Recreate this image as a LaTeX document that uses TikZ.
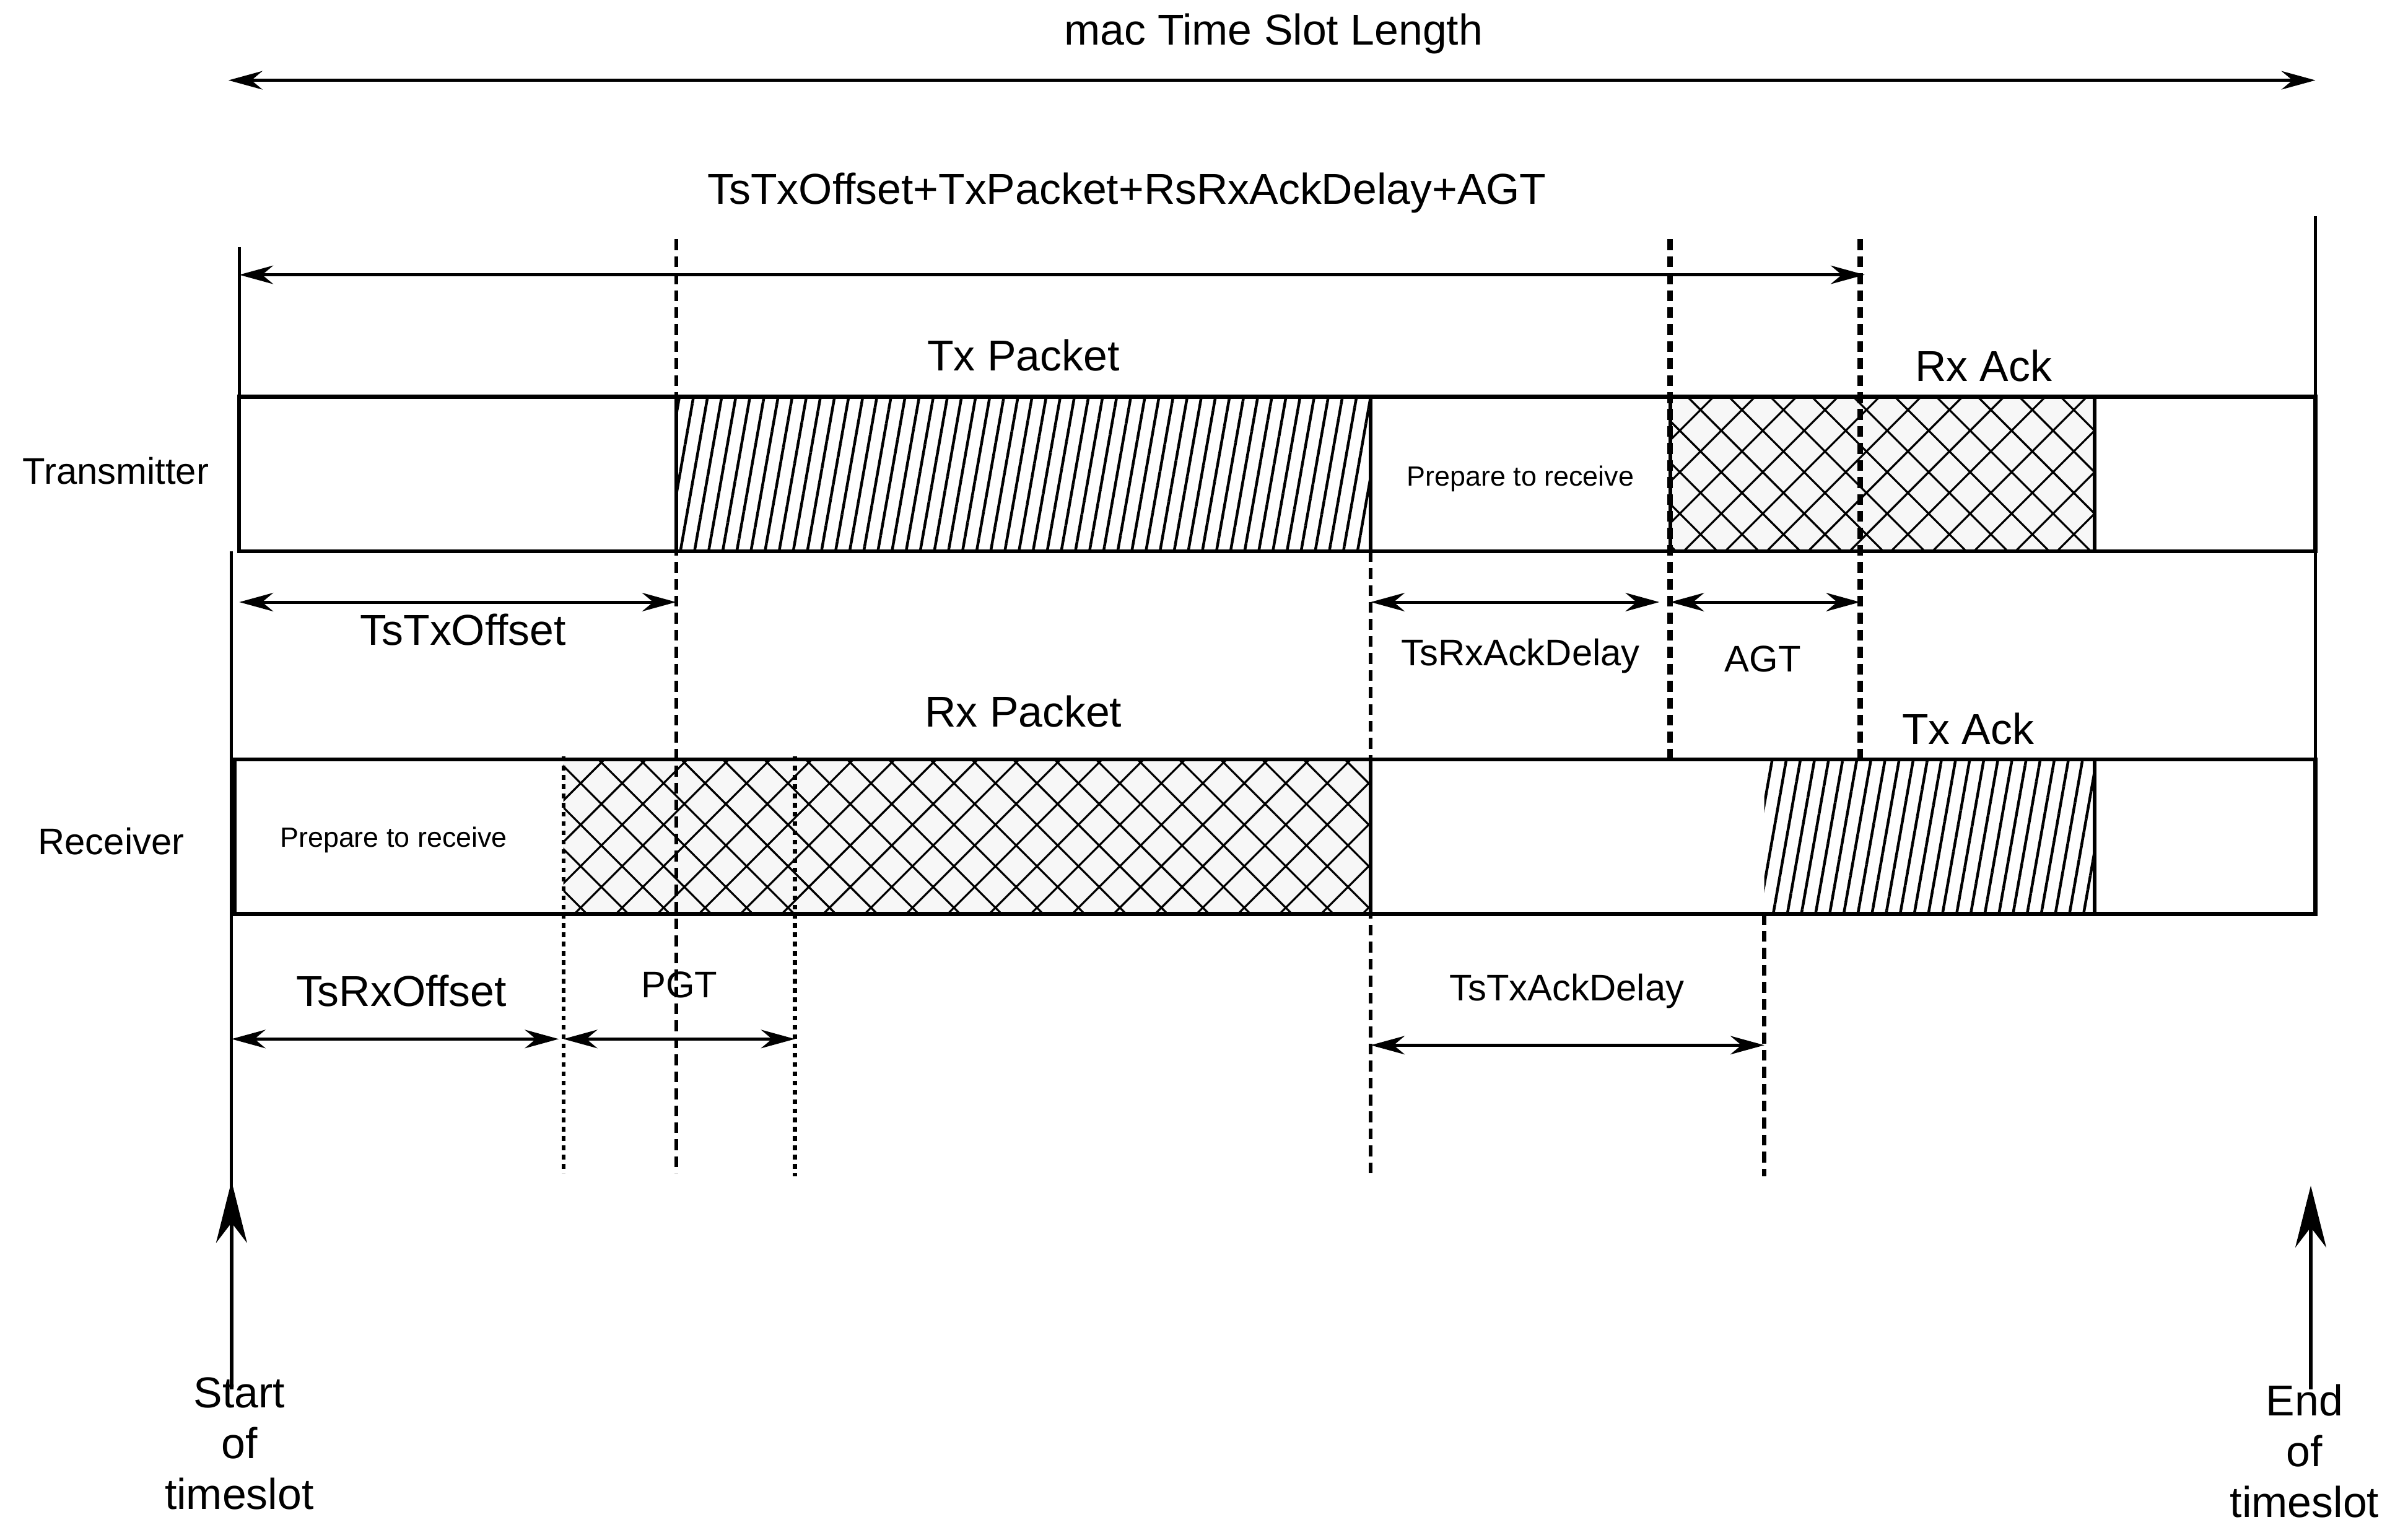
\documentclass[tikz,border=0pt]{standalone}
\usepackage{fontspec}
\setmainfont{Liberation Sans}
\usetikzlibrary{arrows.meta,patterns.meta}
\begin{document}
\begin{tikzpicture}[x=1pt,y=-1pt,
  bar/.style={draw,line width=2.5pt},
  dim/.style={line width=2pt,{Stealth[length=22pt,width=12pt]}-{Stealth[length=22pt,width=12pt]}},
  vdash/.style={line width=2.5pt,dash pattern=on 7pt off 4pt},
  vdot/.style={line width=2.5pt,dash pattern=on 3pt off 3pt},
  big/.style={font=\fontsize{28}{32}\selectfont},
  mid/.style={font=\fontsize{24}{28}\selectfont},
  small/.style={font=\fontsize{18}{22}\selectfont},
  hatch/.style={pattern={Lines[angle=80,distance=9pt,line width=1.8pt]}},
  xh/.style={fill=black!3,postaction={pattern={Lines[angle=45,distance=19pt,line width=1.3pt]}},postaction={pattern={Lines[angle=-45,distance=19pt,line width=1.3pt]}}}]
\useasboundingbox (0,0) rectangle (1560,991);
% top dimensions
\coordinate (ml) at (148,52); \coordinate (mr) at (1500,52);
\draw[dim] (ml) -- (mr);
\node[big] (mts) at (825,22) {mac Time Slot Length};
\coordinate (tl) at (155,178); \coordinate (tr) at (1208,178);
\draw[dim] (tl) -- (tr);
\node[big] (sum) at (730,125) {TsTxOffset+TxPacket+RsRxAckDelay+AGT};
% transmitter bar
\fill[hatch] (438,257) rectangle (888,357);
\path[xh] (1082,257) rectangle (1357,357);
\draw[line width=2.5pt] (1082,257) rectangle (1357,357);
\draw[bar] (155,257) rectangle (1500,357);
\draw[line width=2.5pt] (438,257)--(438,357) (888,257)--(888,357);
% receiver bar
\path[xh] (365,492) rectangle (888,592);
\fill[hatch] (1143,492) rectangle (1357,592);
\draw[line width=2.5pt] (1357,492)--(1357,592) (888,492)--(888,592);
\draw[bar] (152,492) rectangle (1500,592);
% verticals
\draw[line width=2pt] (155,160)--(155,357);
\draw[line width=2pt] (150,357)--(150,770);
\draw[line width=2pt] (1500,140)--(1500,592);
\draw[vdash] (438,155)--(438,760);
\draw[vdash] (888,357)--(888,760);
\draw[vdash,line width=3.5pt] (1082,155)--(1082,492);
\draw[vdash,line width=3.5pt] (1205,155)--(1205,492);
\draw[vdash,line width=3pt] (1143,592)--(1143,762);
\draw[vdot] (365,490)--(365,760);
\draw[vdot] (515,490)--(515,762);
% dimension arrows
\draw[dim] (155,390) -- (438,390);
\node[big] (tto) at (300,408) {TsTxOffset};
\draw[dim] (888,390) -- (1075,390);
\node[mid] (trad) at (985,425) {TsRxAckDelay};
\draw[dim] (1082,390) -- (1205,390);
\node[mid] (agt) at (1142,427) {AGT};
\draw[dim] (150,673) -- (362,673);
\node[big] (tro) at (260,642) {TsRxOffset};
\draw[dim] (365,673) -- (515,673);
\node[mid] (pgt) at (440,638) {PGT};
\draw[dim] (888,677) -- (1143,677);
\node[mid] (ttad) at (1015,642) {TsTxAckDelay};
% labels
\node[big] (txp) at (663,230) {Tx Packet};
\node[big] (rxa) at (1285,237) {Rx Ack};
\node[big] (rxp) at (663,461) {Rx Packet};
\node[big] (txa) at (1275,472) {Tx Ack};
\node[small] (p1) at (985,310) {Prepare to receive};
\node[small] (p2) at (255,544) {Prepare to receive};
\node[mid] (tx) at (75,305) {Transmitter};
\node[mid] (rx) at (72,545) {Receiver};
% start/end
\coordinate (sa) at (150,900); \coordinate (sb) at (150,765);
\draw[line width=2.5pt,-{Stealth[length=40pt,width=20pt]}] (sa)--(sb);
\node[big,align=center,font=\fontsize{28}{33}\selectfont] (st) at (155,935) {Start\\of\\timeslot};
\coordinate (ea) at (1497,900); \coordinate (eb) at (1497,768);
\draw[line width=2.5pt,-{Stealth[length=40pt,width=20pt]}] (ea)--(eb);
\node[big,align=center,font=\fontsize{28}{33}\selectfont] (en) at (1493,940) {End\\of\\timeslot};
\end{tikzpicture}
\end{document}
